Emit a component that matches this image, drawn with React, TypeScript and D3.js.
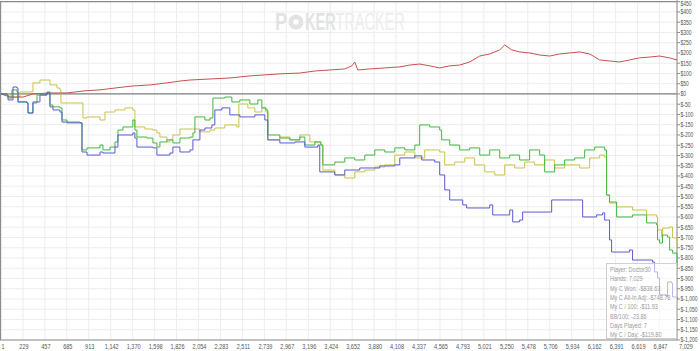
import * as React from "react";
import * as d3 from "d3";

// hand counts shown on the x axis
const xTicks = [1, 229, 457, 685, 913, 1142, 1370, 1598, 1826, 2054, 2283, 2511, 2739, 2967, 3196, 3424, 3652, 3880, 4108, 4337, 4565, 4793, 5021, 5250, 5478, 5706, 5934, 6162, 6391, 6619, 6847, 7029];
const yTicks = d3.range(450, -1201, -50);

// non-showdown winnings
const redHands = [1, 95, 230, 333, 510, 687, 864, 1030, 1186, 1372, 1549, 1726, 1861, 1965, 2173, 2380, 2588, 2744, 2900, 3108, 3264, 3419, 3575, 3648, 3679, 3710, 3835, 3991, 4147, 4251, 4354, 4458, 4562, 4666, 4770, 4874, 4978, 5082, 5186, 5238, 5310, 5393, 5497, 5601, 5705, 5809, 5913, 6017, 6121, 6225, 6328, 6432, 6536, 6640, 6744, 6848, 6952, 7029];
const redValues = [0, -15, -15, 0, 5, 5, 15, 20, 29, 39, 44, 54, 63, 68, 73, 78, 88, 93, 98, 102, 112, 117, 122, 137, 156, 117, 122, 127, 132, 141, 146, 137, 127, 137, 141, 156, 185, 195, 215, 239, 215, 205, 200, 190, 185, 195, 200, 205, 195, 166, 161, 156, 166, 176, 180, 185, 176, 166];

// all-in adjusted
const yellowHands = [1, 95, 198, 333, 406, 510, 583, 614, 624, 822, 853, 895, 1030, 1082, 1186, 1289, 1372, 1393, 1497, 1580, 1622, 1653, 1726, 1757, 1788, 1861, 1996, 2069, 2173, 2224, 2328, 2453, 2474, 2567, 2640, 2713, 2755, 2775, 2900, 3004, 3108, 3212, 3326, 3347, 3471, 3575, 3679, 3783, 3887, 3991, 4095, 4199, 4303, 4406, 4562, 4614, 4718, 4822, 4926, 5030, 5134, 5238, 5342, 5445, 5549, 5653, 5757, 5861, 6017, 6121, 6225, 6277, 6297, 6328, 6401, 6567, 6713, 6817, 6827, 6869, 6879, 6952, 6983, 7029];
const yellowValues = [0, -15, 10, 54, 68, 44, 29, 20, -44, -44, -117, -112, -127, -88, -78, -68, -78, -161, -171, -176, -190, -210, -234, -224, -200, -171, -171, -185, -176, -166, -151, -161, -49, -68, -88, -68, -88, -224, -210, -224, -200, -234, -249, -371, -395, -410, -380, -371, -356, -346, -298, -283, -312, -273, -283, -346, -332, -312, -346, -380, -395, -346, -361, -332, -346, -322, -361, -346, -361, -312, -298, -307, -493, -532, -551, -566, -590, -600, -663, -698, -654, -649, -702, -746];

// net won
const greenHands = [1, 63, 74, 115, 167, 178, 271, 282, 323, 333, 375, 479, 510, 541, 614, 635, 687, 822, 843, 895, 1030, 1061, 1134, 1186, 1217, 1269, 1372, 1393, 1414, 1518, 1580, 1622, 1653, 1726, 1788, 1861, 1965, 1996, 2017, 2069, 2121, 2173, 2204, 2328, 2401, 2484, 2588, 2671, 2713, 2755, 2775, 2900, 3004, 3108, 3160, 3264, 3326, 3347, 3471, 3575, 3679, 3783, 3887, 3991, 4095, 4199, 4303, 4354, 4458, 4562, 4582, 4666, 4770, 4874, 4978, 5082, 5186, 5290, 5393, 5497, 5601, 5653, 5757, 5861, 5965, 6069, 6173, 6277, 6297, 6328, 6401, 6567, 6713, 6817, 6827, 6848, 6879, 6931, 6952, 6983, 7029];
const greenValues = [0, -5, -20, 20, 10, -39, -44, -93, -93, -44, -5, 10, -54, -63, -68, -127, -137, -141, -273, -263, -249, -273, -259, -234, -176, -161, -127, -176, -210, -215, -239, -259, -234, -224, -239, -215, -210, -190, -112, -112, -127, -117, -20, -15, -39, -29, -49, -29, -68, -78, -200, -215, -224, -210, -249, -234, -249, -346, -332, -312, -322, -298, -273, -283, -263, -273, -249, -151, -161, -176, -224, -249, -273, -263, -298, -273, -312, -298, -322, -273, -298, -380, -346, -322, -312, -273, -259, -273, -493, -527, -600, -590, -629, -639, -712, -727, -688, -698, -761, -776, -839];

// showdown winnings
const blueHands = [1, 63, 74, 126, 167, 178, 271, 282, 323, 333, 406, 479, 510, 541, 614, 635, 687, 822, 843, 895, 1030, 1061, 1186, 1217, 1310, 1372, 1393, 1414, 1580, 1622, 1757, 1788, 1861, 1965, 1996, 2069, 2121, 2193, 2224, 2297, 2380, 2484, 2640, 2744, 2775, 2900, 3056, 3160, 3295, 3315, 3471, 3575, 3731, 3939, 4095, 4147, 4303, 4375, 4510, 4562, 4614, 4666, 4801, 4842, 5082, 5113, 5259, 5290, 5321, 5393, 5424, 5705, 5726, 5986, 6048, 6193, 6256, 6277, 6308, 6328, 6349, 6536, 6567, 6775, 6796, 6827, 6848, 6920, 6931, 6972, 6983, 7029];
const blueValues = [0, -5, -29, 34, 29, -39, -44, -93, -93, -39, -5, 5, -63, -78, -88, -137, -141, -141, -283, -298, -283, -288, -259, -200, -200, -190, -215, -259, -263, -298, -288, -259, -283, -273, -224, -176, -166, -151, -78, -68, -102, -112, -102, -127, -224, -239, -234, -259, -249, -380, -395, -371, -361, -351, -346, -312, -302, -322, -332, -395, -468, -517, -541, -556, -541, -590, -590, -566, -624, -615, -576, -576, -517, -517, -600, -590, -580, -615, -615, -712, -771, -761, -810, -820, -868, -898, -980, -990, -917, -922, -990, -1005];

const infoLines = [
  "Player: Doctor30",
  "Hands: 7,029",
  "My C Won: -$838.63",
  "My C All-In Adj: -$748.78",
  "My C / 100: -$11.93",
  "BB/100: -23.86",
  "Days Played: 7",
  "My C / Day: -$119.80",
];

const W = 700;
const H = 351;
const left = 1;
const right = 677;
const top = 1.7;
const bottom = 340;

const fmtMoney = (v: number) => (v < 0 ? "$-" + d3.format(",")(-v) : "$" + d3.format(",")(v));

export default function App() {
  const x = d3.scaleLinear().domain([1, 7029]).range([left, right]);
  const y = d3.scaleLinear().domain([-1200, 450]).range([bottom, top]);

  const line = d3
    .line<[number, number]>()
    .x((d) => x(d[0]))
    .y((d) => y(d[1]));
  const stepLine = d3
    .line<[number, number]>()
    .x((d) => x(d[0]))
    .y((d) => y(d[1]))
    .curve(d3.curveStepAfter);

  const series = [
    { hands: yellowHands, values: yellowValues, color: "#c9c24a", gen: stepLine },
    { hands: redHands, values: redValues, color: "#c85050", gen: line },
    { hands: greenHands, values: greenValues, color: "#3fb83f", gen: stepLine },
    { hands: blueHands, values: blueValues, color: "#5a5ad2", gen: stepLine },
  ];

  return (
    <svg
      width={W}
      height={H}
      style={{ position: "absolute", left: 0, top: 0, background: "#fff" }}
      fontFamily="Liberation Sans, Arial, sans-serif"
    >
      {/* grid */}
      <g stroke="#ededed" strokeWidth={1}>
        {yTicks.map((t) => (
          <line key={"h" + t} x1={left} x2={right} y1={y(t)} y2={y(t)} />
        ))}
        {xTicks.map((t) => (
          <line key={"v" + t} x1={x(t)} x2={x(t)} y1={top} y2={bottom} />
        ))}
      </g>

      {/* watermark */}
      <g fontSize={23}>
        <g transform="translate(275,30) scale(0.8,1)">
          <text fontWeight="bold" fill="#e3e3e3">P</text>
        </g>
        <circle cx={296} cy={22} r={7.5} fill="#e3e3e3" />
        <circle cx={296} cy={22} r={2.8} fill="#fff" />
        <g transform="translate(305,30) scale(0.63,1)">
          <text>
            <tspan fontWeight="bold" fill="#e3e3e3">KER</tspan>
            <tspan fill="#ededed">TRACKER</tspan>
          </text>
        </g>
      </g>

      {/* borders */}
      <line x1={0} x2={right} y1={top} y2={top} stroke="#8c8c8c" strokeWidth={1.2} />
      <line x1={0.5} x2={0.5} y1={top} y2={bottom} stroke="#8c8c8c" strokeWidth={1.2} />
      <line x1={0} x2={right} y1={bottom} y2={bottom} stroke="#8c8c8c" strokeWidth={1} />
      <line x1={right} x2={right} y1={0} y2={bottom} stroke="#8c8c8c" strokeWidth={1} />
      <line x1={0} x2={right} y1={y(0)} y2={y(0)} stroke="#808080" strokeWidth={1.3} />

      {/* series */}
      {series.map((s, i) => (
        <path
          key={i}
          d={s.gen(s.hands.map((h, j) => [h, s.values[j]] as [number, number])) || ""}
          fill="none"
          stroke={s.color}
          strokeWidth={1}
        />
      ))}

      {/* y axis (right) */}
      <g fontSize={6.6} fill="#555">
        {yTicks.map((t) => (
          <g key={"yt" + t}>
            <line x1={right} x2={right + 3} y1={y(t)} y2={y(t)} stroke="#8c8c8c" />
            <g transform={`translate(${right + 3.5},${Math.min(Math.max(y(t) + 2.4, 5.5), 341.6)}) scale(0.76,1)`}>
              <text>{fmtMoney(t)}</text>
            </g>
          </g>
        ))}
      </g>

      {/* x axis */}
      <g fontSize={6.8} fill="#555" textAnchor="middle">
        {xTicks.map((t, i) => {
          const px = i === xTicks.length - 1 ? x(t) + 9 : i === 0 ? x(t) + 2 : x(t) + 1;
          return (
            <g key={"xt" + t} transform={`translate(${px},${bottom + 8.8}) scale(0.82,1)`}>
              <text>{d3.format(",")(t)}</text>
            </g>
          );
        })}
      </g>

      {/* info box */}
      <rect x={606.5} y={263.5} width={70} height={75} fill="#fff" fillOpacity={0.55} stroke="#cfcfcf" />
      <g fontSize={6.4} fill="#9a9a9a">
        {infoLines.map((s, i) => (
          <g key={s} transform={`translate(610,${272 + i * 9.3}) scale(0.86,1)`}>
            <text>{s}</text>
          </g>
        ))}
      </g>
    </svg>
  );
}
